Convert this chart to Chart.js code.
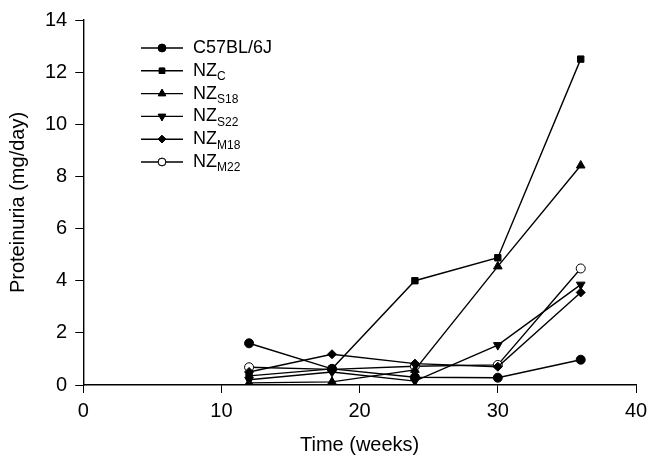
<!DOCTYPE html>
<html>
<head>
<meta charset="utf-8">
<script src="https://cdn.jsdelivr.net/npm/chart.js@4/dist/chart.umd.min.js"></script>
<style>
  html, body { margin: 0; padding: 0; background: #fff; }
  #wrap { width: 660px; height: 468px; position: relative; }
</style>
</head>
<body>
<div id="wrap"><canvas id="chart"></canvas></div>
<script>
// weeks sampled
var weeks = [12, 18, 24, 30, 36];

// proteinuria (mg/day) per group
var c57bl = [1.6, 0.62, 0.3, 0.28, 0.97];
var nzC = [0.35, 0.62, 4.0, 4.88, 12.5];
var nzS18 = [0.08, 0.12, 0.58, 4.55, 8.42];
var nzS22 = [0.2, 0.5, 0.15, 1.53, 3.85];
var nzM18 = [0.5, 1.18, 0.82, 0.7, 3.55];
var nzM22 = [0.68, 0.6, 0.72, 0.77, 4.47];

var xTicks = [0, 10, 20, 30, 40];
var yTicks = [0, 2, 4, 6, 8, 10, 12, 14];

// legend names: base + subscript
var groupNames = [['C57BL/6J', ''], ['NZ', 'C'], ['NZ', 'S18'], ['NZ', 'S22'], ['NZ', 'M18'], ['NZ', 'M22']];

var FONT = '"Liberation Sans", Arial, sans-serif';

function pts(vals) {
    return vals.map(function(v, i) { return { x: weeks[i], y: v }; });
}

function series(label, vals, style, fill, radius, rot) {
    return {
        label: label,
        data: pts(vals),
        borderColor: '#000',
        borderWidth: 1.4,
        backgroundColor: fill,
        pointStyle: style,
        pointRadius: radius,
        pointRotation: rot || 0,
        pointBorderColor: '#000',
        pointBackgroundColor: fill,
        pointBorderWidth: 1,
        showLine: true,
        tension: 0
    };
}

var datasets = [
    series('C57BL/6J', c57bl, 'circle', '#000', 4.5),
    series('NZC', nzC, 'rect', '#000', 4.5),
    series('NZS18', nzS18, 'triangle', '#000', 5),
    series('NZS22', nzS22, 'triangle', '#000', 5, 180),
    series('NZM18', nzM18, 'rectRot', '#000', 4.5),
    series('NZM22', nzM22, 'circle', '#fff', 4.5)
];

// hand-drawn legend so the subscripts come out right
var legendPlugin = {
    id: 'subLegend',
    afterDraw: function(c) {
        var ctx = c.ctx;
        var x0 = 141, x1 = 183, xm = 162, xt = 193, y0 = 48, dy = 22.8;
        ctx.save();
        c.data.datasets.forEach(function(ds, i) {
            var y = y0 + i * dy;
            ctx.strokeStyle = '#000';
            ctx.lineWidth = 1.4;
            ctx.beginPath(); ctx.moveTo(x0, y); ctx.lineTo(x1, y); ctx.stroke();
            ctx.lineWidth = 1;
            Chart.helpers.drawPoint(ctx, {
                pointStyle: ds.pointStyle, radius: ds.pointRadius * 0.85, rotation: ds.pointRotation,
                borderWidth: 1
            }, xm, y);
            ctx.fillStyle = ds.pointBackgroundColor;
            ctx.strokeStyle = '#000';
            ctx.fill(); ctx.stroke();
            var nm = groupNames[i];
            ctx.fillStyle = '#000';
            ctx.textBaseline = 'middle';
            ctx.font = '18px ' + FONT;
            ctx.fillText(nm[0], xt, y);
            if (nm[1]) {
                var w = ctx.measureText(nm[0]).width;
                ctx.font = '12px ' + FONT;
                ctx.fillText(nm[1], xt + w, y + 6);
            }
        });
        ctx.restore();
    }
};

var tickFont = { family: FONT, size: 20 };

new Chart(document.getElementById('chart'), {
    type: 'scatter',
    data: { datasets: datasets },
    plugins: [legendPlugin],
    options: {
        responsive: true, maintainAspectRatio: false, animation: false,
        layout: { padding: { left: 6, right: 24, top: 19, bottom: 5 } },
        plugins: { legend: { display: false }, tooltip: { enabled: false } },
        scales: {
            x: {
                type: 'linear', min: 0, max: 40,
                afterBuildTicks: function(s) { s.ticks = xTicks.map(function(v) { return { value: v }; }); },
                grid: { drawOnChartArea: false, drawTicks: true, tickLength: 8, color: '#000' },
                border: { color: '#000', width: 1.4 },
                ticks: { color: '#000', font: tickFont, padding: 6, maxRotation: 0 },
                title: { display: true, text: 'Time (weeks)', color: '#000', font: tickFont, padding: { top: 4, bottom: 6 } }
            },
            y: {
                type: 'linear', min: 0, max: 14,
                afterBuildTicks: function(s) { s.ticks = yTicks.map(function(v) { return { value: v }; }); },
                grid: { drawOnChartArea: false, drawTicks: true, tickLength: 8, color: '#000' },
                border: { color: '#000', width: 1.4 },
                ticks: { color: '#000', font: tickFont, padding: 8 },
                title: { display: true, text: 'Proteinuria (mg/day)', color: '#000', font: tickFont, padding: { top: 0, bottom: 7 } }
            }
        }
    }
});
</script>
</body>
</html>
